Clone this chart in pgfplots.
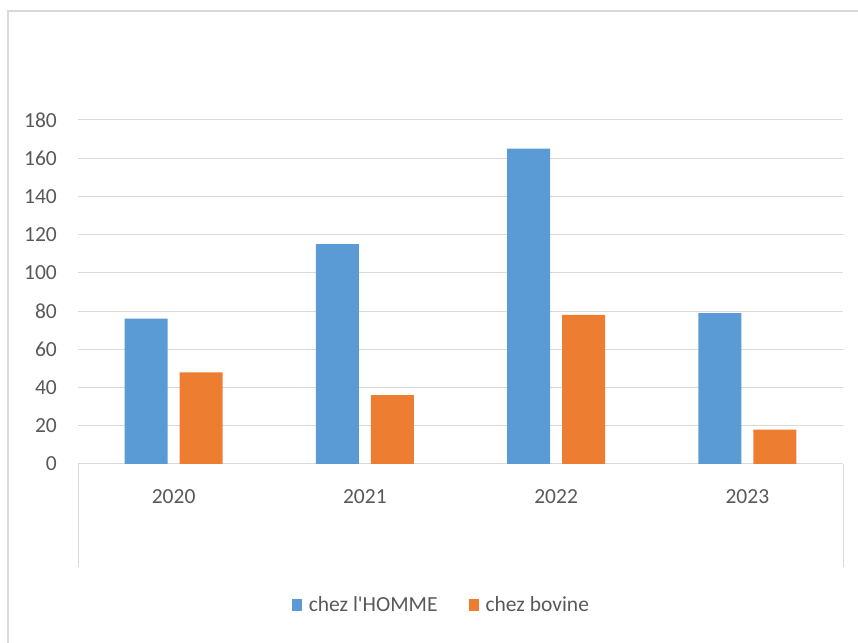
\documentclass[border=0pt]{standalone}
\usepackage{pgfplots}
\pgfplotsset{compat=1.18}
\usepackage{fontspec}
\setmainfont{Carlito}

\definecolor{homme}{HTML}{5B9BD5}
\definecolor{bovine}{HTML}{ED7D31}
\definecolor{gridgray}{HTML}{D9D9D9}
\definecolor{textgray}{HTML}{595959}

\begin{document}
\begin{tikzpicture}[x=1bp,y=1bp]
\useasboundingbox (0,0) rectangle (858,643);
% outer chart frame
\draw[gridgray, line width=1.5bp] (8,0) -- (8,632) -- (858,632);
% category area separators below the axis
\draw[gridgray, line width=1bp] (78,179) -- (78,76);
\draw[gridgray, line width=1bp] (843,179) -- (843,76);
\coordinate (origin) at (78,179);

\begin{axis}[
  at={(origin)}, anchor=south west,
  scale only axis,
  width=765bp, height=344bp,
  xmin=-0.5, xmax=3.5,
  ymin=0, ymax=180,
  ytick={0,20,...,180},
  xtick={0,1,2,3},
  xticklabels={2020,2021,2022,2023},
  axis line style={draw=none},
  major tick length=0pt,
  ymajorgrids,
  grid style={gridgray, line width=1bp},
  font=\fontsize{21.5bp}{25bp}\selectfont,
  tick label style={textgray, inner sep=0pt},
  /pgf/number format/assume math mode=true,
  yticklabel style={anchor=east, xshift=-21bp},
  xticklabel style={anchor=north, yshift=-25bp},
  ybar=12bp,
  bar width=43bp,
  legend columns=2,
  legend style={
    draw=none, fill=none,
    at={(rel axis cs:0.475,-0.41)}, anchor=center,
    font=\fontsize{21.5bp}{25bp}\selectfont\color{textgray},
    /tikz/every even column/.append style={column sep=29bp},
    /tikz/every odd column/.append style={column sep=5bp},
    inner sep=0pt,
    nodes={inner sep=2bp},
  },
  legend image code/.code={\fill[#1] (0bp,-6bp) rectangle (10bp,6bp);},
]
\addplot[fill=homme, draw=none] coordinates {(0,76) (1,115) (2,165) (3,79)};
\addplot[fill=bovine, draw=none] coordinates {(0,48) (1,36) (2,78) (3,18)};
\legend{chez l\textquotesingle HOMME, chez bovine}
\end{axis}
\end{tikzpicture}
\end{document}
